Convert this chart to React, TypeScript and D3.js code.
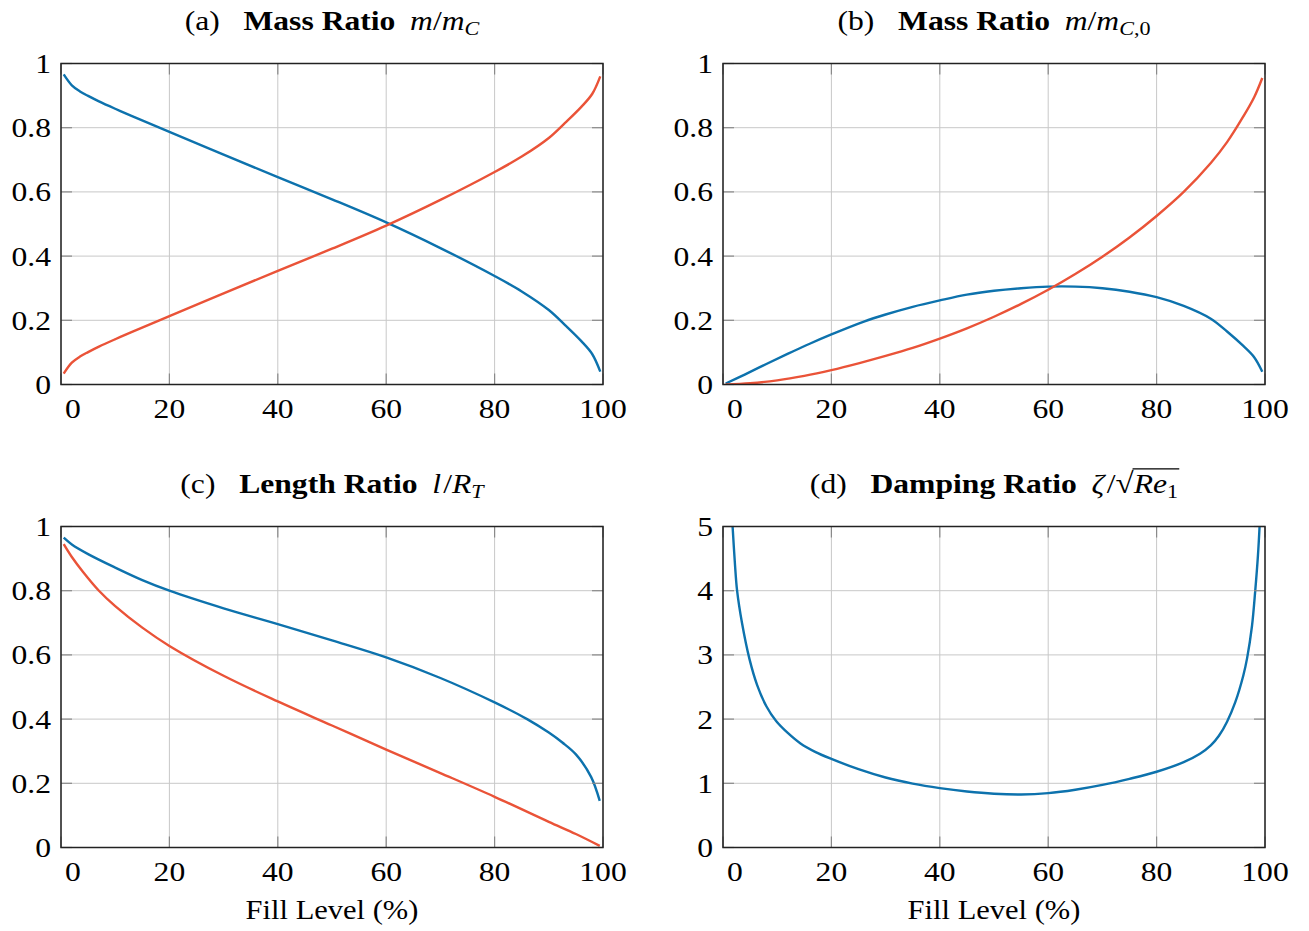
import React, { useEffect, useRef } from 'react';
import * as d3 from 'd3';

const W = 1309;
const H = 931;
const BLUE = '#0d72ad';
const RED = '#ea5338';
const FONT = '"Liberation Serif", "Times New Roman", serif';
const SX = 1.13; // horizontal stretch of glyphs seen in the reference

const xTicks = [0, 20, 40, 60, 80, 100];
const ratioTicks = [0, 0.2, 0.4, 0.6, 0.8, 1];
const dampTicks = [0, 1, 2, 3, 4, 5];
const xAxisLabel = 'Fill Level (%)';

// (a) Mass ratio m/m_C
const aBlueX = [0.5, 2, 3.5, 5, 7, 10, 13, 20, 30, 40, 50, 60, 70, 80, 85, 90, 93, 96, 98, 99.5];
const aBlueY = [0.966, 0.932, 0.913, 0.899, 0.882, 0.859, 0.837, 0.787, 0.716, 0.646, 0.577, 0.505, 0.425, 0.338, 0.29, 0.232, 0.185, 0.135, 0.095, 0.04];
const aRedX = [0.5, 2, 3.5, 5, 7, 10, 13, 20, 30, 40, 50, 60, 70, 80, 85, 90, 93, 96, 98, 99.5];
const aRedY = [0.034, 0.068, 0.087, 0.101, 0.118, 0.141, 0.163, 0.213, 0.284, 0.354, 0.423, 0.495, 0.575, 0.662, 0.71, 0.768, 0.815, 0.865, 0.905, 0.96];

// (b) Mass ratio m/m_C,0
const bBlueX = [0.5, 4, 8, 12, 16, 20, 26, 30, 35, 40, 45, 50, 55, 60, 65, 70, 75, 80, 85, 90, 93, 96, 98, 99.5];
const bBlueY = [0.003, 0.031, 0.064, 0.096, 0.127, 0.156, 0.196, 0.218, 0.242, 0.262, 0.28, 0.292, 0.3, 0.305, 0.305, 0.3, 0.289, 0.272, 0.245, 0.205, 0.165, 0.12, 0.085, 0.04];
const bRedX = [0.5, 5, 10, 15, 20, 25, 30, 35, 40, 45, 50, 55, 60, 65, 70, 75, 80, 85, 90, 93, 96, 98, 99.5];
const bRedY = [0, 0.004, 0.013, 0.027, 0.045, 0.066, 0.089, 0.114, 0.143, 0.175, 0.211, 0.251, 0.295, 0.344, 0.398, 0.458, 0.525, 0.6, 0.69, 0.755, 0.835, 0.895, 0.955];

// (c) Length ratio l/R_T
const cBlueX = [0.5, 2, 5, 10, 15, 20, 30, 40, 50, 60, 70, 80, 86, 90, 92.5, 95, 97.8, 99.4];
const cBlueY = [0.965, 0.944, 0.914, 0.872, 0.833, 0.8, 0.745, 0.696, 0.645, 0.592, 0.528, 0.452, 0.4, 0.358, 0.327, 0.29, 0.22, 0.145];
const cRedX = [0.5, 2, 4, 7, 10, 15, 20, 30, 40, 50, 60, 70, 80, 90, 95, 99.4];
const cRedY = [0.945, 0.905, 0.86, 0.8, 0.752, 0.685, 0.628, 0.535, 0.455, 0.38, 0.305, 0.232, 0.158, 0.08, 0.042, 0.005];

// (d) Damping ratio zeta/sqrt(Re1)
const dBlueX = [1.77, 2.2, 2.6, 3.5, 4.9, 6.3, 8, 9.8, 12, 14.3, 17, 20, 25, 30, 35, 40, 45, 50, 55, 60, 65, 70, 75, 80, 85, 88, 90, 91.5, 93, 94.5, 96, 96.7, 97.6, 98.2, 98.7, 99.0];
const dBlueY = [5.0, 4.42, 4.0, 3.5, 2.93, 2.53, 2.2, 1.97, 1.78, 1.62, 1.49, 1.38, 1.22, 1.09, 0.995, 0.925, 0.872, 0.837, 0.826, 0.847, 0.9, 0.975, 1.07, 1.18, 1.33, 1.46, 1.59, 1.74, 1.96, 2.26, 2.68, 2.95, 3.45, 4.0, 4.55, 5.0];

type Piece = { t: string; w?: string; it?: boolean; sub?: boolean; gap?: number; over?: boolean; big?: boolean };

const titleA: Piece[] = [
  { t: '(a)', gap: 21 },
  { t: 'Mass Ratio', w: 'bold', gap: 13 },
  { t: 'm', it: true },
  { t: '/' },
  { t: 'm', it: true },
  { t: 'C', it: true, sub: true },
];
const titleB: Piece[] = [
  { t: '(b)', gap: 21 },
  { t: 'Mass Ratio', w: 'bold', gap: 13 },
  { t: 'm', it: true },
  { t: '/' },
  { t: 'm', it: true },
  { t: 'C', it: true, sub: true },
  { t: ',0', sub: true },
];
const titleC: Piece[] = [
  { t: '(c)', gap: 21 },
  { t: 'Length Ratio', w: 'bold', gap: 13 },
  { t: 'l', it: true, gap: 2 },
  { t: '/' },
  { t: 'R', it: true },
  { t: 'T', it: true, sub: true },
];
const titleD: Piece[] = [
  { t: '(d)', gap: 21 },
  { t: 'Damping Ratio', w: 'bold', gap: 13 },
  { t: 'ζ', it: true, gap: 2 },
  { t: '/' },
  { t: '√', big: true },
  { t: 'Re', it: true, over: true },
  { t: '1', sub: true, over: true },
];

type Series = { xs: number[]; ys: number[]; color: string };
type Panel = {
  id: string; left: number; right: number; top: number; bottom: number;
  yMax: number; yTicks: number[]; title: Piece[]; titleY: number;
  series: Series[]; xlabel: boolean;
};

const panels: Panel[] = [
  { id: 'a', left: 61, right: 603, top: 63.5, bottom: 384.5, yMax: 1, yTicks: ratioTicks, title: titleA, titleY: 30,
    series: [{ xs: aBlueX, ys: aBlueY, color: BLUE }, { xs: aRedX, ys: aRedY, color: RED }], xlabel: false },
  { id: 'b', left: 723, right: 1265, top: 63.5, bottom: 384.5, yMax: 1, yTicks: ratioTicks, title: titleB, titleY: 30,
    series: [{ xs: bBlueX, ys: bBlueY, color: BLUE }, { xs: bRedX, ys: bRedY, color: RED }], xlabel: false },
  { id: 'c', left: 61, right: 603, top: 526.5, bottom: 847.5, yMax: 1, yTicks: ratioTicks, title: titleC, titleY: 493,
    series: [{ xs: cBlueX, ys: cBlueY, color: BLUE }, { xs: cRedX, ys: cRedY, color: RED }], xlabel: true },
  { id: 'd', left: 723, right: 1265, top: 526.5, bottom: 847.5, yMax: 5, yTicks: dampTicks, title: titleD, titleY: 493,
    series: [{ xs: dBlueX, ys: dBlueY, color: BLUE }], xlabel: true },
];

const TICK_FS = 28;
const TITLE_FS = 28;
const LABEL_FS = 27;

function stretchedText(parent: any, x: number, y: number, str: string, anchor: string, fs: number) {
  const g = parent.append('g').attr('transform', `translate(${x},${y}) scale(${SX},1)`);
  g.append('text')
    .attr('x', 0).attr('y', 0)
    .attr('text-anchor', anchor)
    .attr('font-family', FONT)
    .attr('font-size', fs)
    .attr('fill', '#000')
    .text(str);
}

function drawTitle(parent: any, cx: number, baseline: number, pieces: Piece[]) {
  const outer = parent.append('g').attr('transform', `translate(${cx},${baseline}) scale(${SX},1)`);
  const inner = outer.append('g');
  let cursor = 0;
  let overStart = -1;
  let overEnd = -1;
  pieces.forEach((p) => {
    const fs = p.sub ? TITLE_FS * 0.7 : p.big ? TITLE_FS * 1.05 : TITLE_FS;
    const t = inner.append('text')
      .attr('x', cursor)
      .attr('y', p.sub ? 5 : 0)
      .attr('font-family', FONT)
      .attr('font-size', fs)
      .attr('font-weight', p.w || 'normal')
      .attr('font-style', p.it ? 'italic' : 'normal')
      .attr('fill', '#000')
      .text(p.t);
    const len = (t.node() as SVGTextElement).getComputedTextLength();
    if (p.over) {
      if (overStart < 0) overStart = cursor - 1;
      overEnd = cursor + len + 1;
    }
    cursor += len + (p.gap || 0);
  });
  if (overStart >= 0) {
    inner.append('line')
      .attr('x1', overStart).attr('x2', overEnd)
      .attr('y1', -TITLE_FS * 0.86).attr('y2', -TITLE_FS * 0.86)
      .attr('stroke', '#000').attr('stroke-width', 1.3);
  }
  inner.attr('transform', `translate(${-cursor / 2},0)`);
}

function drawPanel(svg: any, p: Panel) {
  const x = d3.scaleLinear().domain([0, 100]).range([p.left, p.right]);
  const y = d3.scaleLinear().domain([0, p.yMax]).range([p.bottom, p.top]);
  const g = svg.append('g');
  const clipId = `clip-${p.id}`;
  g.append('clipPath').attr('id', clipId).append('rect')
    .attr('x', p.left).attr('y', p.top)
    .attr('width', p.right - p.left).attr('height', p.bottom - p.top);

  // grid
  g.append('g').selectAll('line').data(xTicks).join('line')
    .attr('x1', (d: number) => x(d)).attr('x2', (d: number) => x(d))
    .attr('y1', p.top).attr('y2', p.bottom)
    .attr('stroke', '#c8c8c8').attr('stroke-width', 1);
  g.append('g').selectAll('line').data(p.yTicks).join('line')
    .attr('x1', p.left).attr('x2', p.right)
    .attr('y1', (d: number) => y(d)).attr('y2', (d: number) => y(d))
    .attr('stroke', '#c8c8c8').attr('stroke-width', 1);

  // curves
  const line = d3.line<[number, number]>()
    .x((d) => x(d[0]))
    .y((d) => y(d[1]))
    .curve(d3.curveCatmullRom.alpha(0.5));
  p.series.forEach((s) => {
    const pts: [number, number][] = s.xs.map((xv, i) => [xv, s.ys[i]]);
    g.append('path').datum(pts)
      .attr('d', line)
      .attr('fill', 'none')
      .attr('stroke', s.color)
      .attr('stroke-width', 2.4)
      .attr('stroke-linejoin', 'round')
      .attr('clip-path', `url(#${clipId})`);
  });

  // inner tick marks on all four sides
  const TL = 11;
  const tk = g.append('g').attr('stroke', '#8a8a8a').attr('stroke-width', 1.2);
  xTicks.forEach((v) => {
    tk.append('line').attr('x1', x(v)).attr('x2', x(v)).attr('y1', p.bottom).attr('y2', p.bottom - TL);
    tk.append('line').attr('x1', x(v)).attr('x2', x(v)).attr('y1', p.top).attr('y2', p.top + TL);
  });
  p.yTicks.forEach((v) => {
    tk.append('line').attr('x1', p.left).attr('x2', p.left + TL).attr('y1', y(v)).attr('y2', y(v));
    tk.append('line').attr('x1', p.right).attr('x2', p.right - TL).attr('y1', y(v)).attr('y2', y(v));
  });

  // frame
  g.append('rect')
    .attr('x', p.left).attr('y', p.top)
    .attr('width', p.right - p.left).attr('height', p.bottom - p.top)
    .attr('fill', 'none').attr('stroke', '#222').attr('stroke-width', 1.5);

  // tick labels
  p.yTicks.forEach((v) => {
    stretchedText(g, p.left - 10, y(v) + TICK_FS * 0.34, String(v), 'end', TICK_FS);
  });
  xTicks.forEach((v, i) => {
    const shift = i === 0 ? 12 : 0;
    stretchedText(g, x(v) + shift, p.bottom + 33, String(v), 'middle', TICK_FS);
  });

  // title
  drawTitle(g, (p.left + p.right) / 2, p.titleY, p.title);

  if (p.xlabel) {
    stretchedText(g, (p.left + p.right) / 2, 919, xAxisLabel, 'middle', LABEL_FS);
  }
}

export default function App() {
  const ref = useRef<SVGSVGElement>(null);
  useEffect(() => {
    const svg = d3.select(ref.current);
    svg.selectAll('*').remove();
    svg.append('rect').attr('width', W).attr('height', H).attr('fill', '#fff');
    panels.forEach((p) => drawPanel(svg, p));
  }, []);
  return (
    <svg
      ref={ref}
      width={W}
      height={H}
      style={{ position: 'absolute', left: 0, top: 0, display: 'block' }}
    />
  );
}
